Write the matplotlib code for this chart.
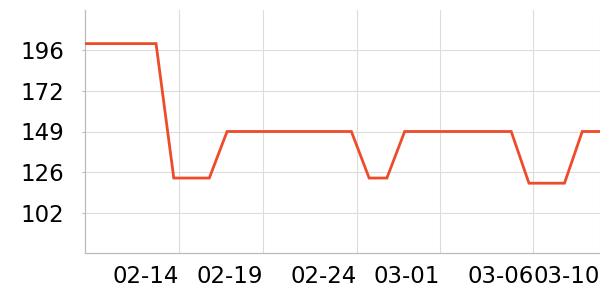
import matplotlib
matplotlib.use("Agg")
import matplotlib.pyplot as plt

# daily values, 02-09 .. 03-10
day_labels = ["02-09", "02-10", "02-11", "02-12", "02-13", "02-14", "02-15", "02-16",
              "02-17", "02-18", "02-19", "02-20", "02-21", "02-22", "02-23", "02-24",
              "02-25", "02-26", "02-27", "02-28", "03-01", "03-02", "03-03", "03-04",
              "03-05", "03-06", "03-07", "03-08", "03-09", "03-10"]
values = [200, 200, 200, 200, 200, 122, 122, 122,
          149, 149, 149, 149, 149, 149, 149, 149,
          122, 122, 149, 149, 149, 149, 149, 149,
          149, 119, 119, 119, 149, 149]

# x tick positions (day offset) and labels
tick_pos = [5.3, 10.0, 15.3, 20.0, 25.25, 29.0]
tick_labels = ["02-14", "02-19", "02-24", "03-01", "03-06", "03-10"]
y_ticks = [102, 125.5, 149, 172.5, 196]

x = list(range(len(values)))

fig = plt.figure(figsize=(6, 3), dpi=100)
ax = fig.add_axes([85 / 600, 47 / 300, 515 / 600, 243 / 300])

ax.plot(x, values, color="#ee4b2b", linewidth=2.0, solid_joinstyle="miter", zorder=3)

ax.set_xlim(0, 29)
ax.set_ylim(78.5, 219.5)
ax.set_yticks(y_ticks)
ax.set_yticklabels(["{:.0f}".format(v) for v in y_ticks])
ax.set_xticks(tick_pos)
ax.set_xticklabels(tick_labels, ha="right")

ax.grid(True, color="#dcdcdc", linewidth=0.8)
ax.set_axisbelow(True)
for s in ["top", "right"]:
    ax.spines[s].set_visible(False)
for s in ["left", "bottom"]:
    ax.spines[s].set_color("#bbbbbb")
    ax.spines[s].set_linewidth(0.9)

ax.tick_params(axis="y", length=2, color="#bbbbbb", pad=13, labelsize=16.5)
ax.tick_params(axis="x", length=0, pad=8.5, labelsize=16.5)

fig.savefig("out.png", dpi=100)
